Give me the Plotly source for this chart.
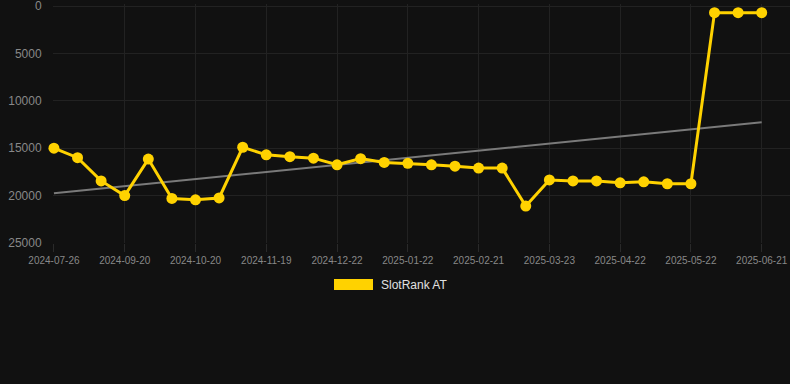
import numpy as np
import plotly.graph_objects as go

dates = [
    "2024-07-26", "2024-08-14", "2024-09-01",
    "2024-09-20", "2024-09-30", "2024-10-10",
    "2024-10-20", "2024-10-30", "2024-11-09",
    "2024-11-19", "2024-11-29", "2024-12-10",
    "2024-12-22", "2025-01-01", "2025-01-12",
    "2025-01-22", "2025-02-01", "2025-02-11",
    "2025-02-21", "2025-03-03", "2025-03-13",
    "2025-03-23", "2025-04-02", "2025-04-12",
    "2025-04-22", "2025-05-02", "2025-05-12",
    "2025-05-22", "2025-06-01", "2025-06-11",
    "2025-06-21",
]
rank = [
    15000, 16000, 18450, 20000, 16150, 20300, 20450, 20250, 14900, 15700,
    15900, 16050, 16750, 16100, 16500, 16600, 16750, 16900, 17100, 17100,
    21100, 18350, 18450, 18450, 18650, 18550, 18750, 18750, 700, 700, 700,
]
series_name = "SlotRank AT"
y_ticks = [0, 5000, 10000, 15000, 20000, 25000]
y_tick_labels = ["0", "5000", "10000", "15000", "20000", "25000"]

idx = np.arange(len(rank))
slope, intercept = np.polyfit(idx, np.array(rank, dtype=float), 1)
trend = (slope * idx + intercept).tolist()

GOLD = "#FFD200"

fig = go.Figure()
fig.add_trace(go.Scatter(
    x=dates, y=trend, mode="lines",
    line=dict(color="#7a7a7a", width=2),
    showlegend=False, hoverinfo="skip",
))
fig.add_trace(go.Scatter(
    x=dates, y=rank, mode="lines+markers", name=series_name,
    line=dict(color=GOLD, width=3),
    marker=dict(color=GOLD, size=11),
    showlegend=False, cliponaxis=False,
))

L, R, T, B = 53, 0, 4, 141
W, H = 790, 384
pw, ph = W - L - R, H - T - B

def px_x(x):
    return (x - L) / pw

def px_y(y):
    return (T + ph - y) / ph

fig.add_shape(type="rect", xref="paper", yref="paper",
              x0=px_x(334), x1=px_x(373), y0=px_y(290), y1=px_y(279),
              fillcolor=GOLD, line=dict(width=0))
fig.add_annotation(xref="paper", yref="paper", x=px_x(379), y=px_y(284.5),
                   text=series_name, showarrow=False, xanchor="left", yanchor="middle",
                   font=dict(size=12, color="#e0e0e0"))

fig.update_layout(
    width=W, height=H,
    margin=dict(l=L, r=R, t=T, b=B),
    paper_bgcolor="#111111", plot_bgcolor="#111111",
    font=dict(family="Liberation Sans, Arial, sans-serif", color="#888888"),
    showlegend=False,
)
fig.update_xaxes(
    type="category", tickmode="array",
    tickvals=dates[::3], ticktext=dates[::3],
    range=[-0.04, 31.2],
    showgrid=True, gridcolor="#222222", gridwidth=1,
    zeroline=False, showline=False,
    ticks="outside", ticklen=8, tickcolor="#2a2a2a",
    tickfont=dict(size=10, color="#888888"),
    ticklabeloverflow="allow",
)
fig.update_yaxes(
    range=[25000, -211], tickmode="array", tickvals=y_ticks, ticktext=y_tick_labels,
    showgrid=True, gridcolor="#222222", gridwidth=1,
    zeroline=False, showline=False,
    ticks="outside", ticklen=8, tickcolor="rgba(0,0,0,0)",
    tickfont=dict(size=12, color="#888888"),
    ticklabeloverflow="allow",
)

fig.write_html(
    "out.html",
    config={"displayModeBar": False},
    post_script="document.body.style.margin='0';document.body.style.background='#111111';",
)
